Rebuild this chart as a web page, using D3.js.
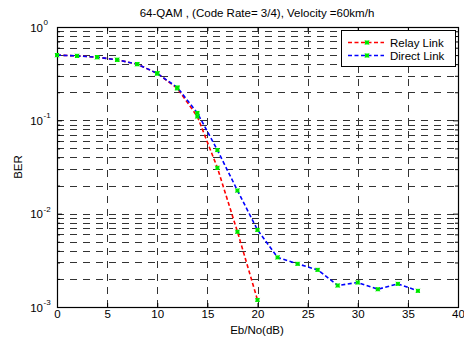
<!DOCTYPE html>
<html>
<head>
<meta charset="utf-8">
<script src="https://cdn.jsdelivr.net/npm/d3@7"></script>
<style>
  html, body { margin: 0; padding: 0; background: #fff; }
  svg { display: block; font-family: "Liberation Sans", Arial, sans-serif; }
</style>
</head>
<body>
<svg id="chart" width="464" height="339"></svg>
<script>
// Eb/No sweep (dB) for each link
const relayEbNo  = [0, 2, 4, 6, 8, 10, 12, 14, 16, 18, 20];
const directEbNo = [0, 2, 4, 6, 8, 10, 12, 14, 16, 18, 20, 22, 24, 26, 28, 30, 32, 34, 36];

// Bit error rate for each link
const relayBER  = [0.5, 0.49, 0.475, 0.445, 0.40, 0.318, 0.22, 0.11, 0.031, 0.0064, 0.00119];
const directBER = [0.5, 0.49, 0.475, 0.445, 0.40, 0.318, 0.225, 0.12, 0.048, 0.0177, 0.0067,
                   0.0034, 0.0029, 0.0025, 0.0017, 0.00183, 0.00155, 0.00177, 0.00149];

// Axis ticks
const xTicks = [0, 5, 10, 15, 20, 25, 30, 35, 40];
const yDecades = [1e-3, 1e-2, 1e-1, 1];
const yDecadeExp = ["-3", "-2", "-1", "0"];

const seriesNames = ["Relay Link", "Direct Link"];
const seriesColors = ["#ff0000", "#0000ff"];

const svg = d3.select("#chart");
const plotL = 57, plotR = 458, plotT = 27, plotB = 307;
const fs = 11.5;

const x = d3.scaleLinear().domain([0, 40]).range([plotL, plotR]);
const y = d3.scaleLog().domain([1e-3, 1]).range([plotB, plotT]);

// minor log ticks (2..9 within each decade)
const yMinor = [];
for (let e = -3; e < 0; e++) {
  for (let m = 2; m <= 9; m++) yMinor.push(m * Math.pow(10, e));
}

// grid
const grid = svg.append("g").attr("stroke", "#333").attr("stroke-width", 1)
  .attr("stroke-dasharray", "7,6").attr("fill", "none");
grid.selectAll("line.gy").data(yMinor.concat([1e-2, 1e-1])).enter().append("line")
  .attr("x1", plotL).attr("x2", plotR)
  .attr("y1", d => Math.round(y(d)) + 0.5).attr("y2", d => Math.round(y(d)) + 0.5);
grid.selectAll("line.gx").data(xTicks.slice(1, -1)).enter().append("line")
  .attr("y1", plotT).attr("y2", plotB)
  .attr("x1", d => Math.round(x(d)) + 0.5).attr("x2", d => Math.round(x(d)) + 0.5);

// axes with inward ticks
const axisStyle = g => {
  g.selectAll(".domain").remove();
  g.selectAll("line").attr("stroke", "#000");
};
svg.append("g").attr("transform", `translate(0,${plotB})`)
  .call(d3.axisBottom(x).tickValues(xTicks).tickSize(-4).tickPadding(3).tickFormat(d3.format("d")))
  .call(axisStyle)
  .call(g => g.selectAll("text").attr("font-size", fs).attr("fill", "#000")
    .attr("font-family", "Liberation Sans, Arial, sans-serif"));
svg.append("g").attr("transform", `translate(0,${plotT})`)
  .call(d3.axisTop(x).tickValues(xTicks).tickSize(-4).tickFormat(""))
  .call(axisStyle);
svg.append("g").attr("transform", `translate(${plotL},0)`)
  .call(d3.axisLeft(y).tickValues(yDecades).tickSize(-5).tickFormat(""))
  .call(axisStyle);
svg.append("g").attr("transform", `translate(${plotL},0)`)
  .call(d3.axisLeft(y).tickValues(yMinor).tickSize(-3).tickFormat(""))
  .call(axisStyle);
svg.append("g").attr("transform", `translate(${plotR},0)`)
  .call(d3.axisRight(y).tickValues(yDecades).tickSize(-5).tickFormat(""))
  .call(axisStyle);
svg.append("g").attr("transform", `translate(${plotR},0)`)
  .call(d3.axisRight(y).tickValues(yMinor).tickSize(-3).tickFormat(""))
  .call(axisStyle);

// y decade labels 10^n
const yl = svg.append("g").attr("font-size", fs).attr("fill", "#000");
yDecades.forEach((d, i) => {
  yl.append("text").attr("x", 43).attr("y", y(d) + 4.5).attr("text-anchor", "end").text("10");
  yl.append("text").attr("x", 43.5).attr("y", y(d) - 2).attr("font-size", 8).text(yDecadeExp[i]);
});

// frame
svg.append("rect").attr("x", plotL + 0.5).attr("y", plotT + 0.5)
  .attr("width", plotR - plotL).attr("height", plotB - plotT)
  .attr("fill", "none").attr("stroke", "#000").attr("stroke-width", 1.2);

// series
const series = [
  { name: seriesNames[0], color: seriesColors[0], xs: relayEbNo, ys: relayBER },
  { name: seriesNames[1], color: seriesColors[1], xs: directEbNo, ys: directBER }
];
const line = d3.line().x(d => x(d[0])).y(d => y(d[1]));

function marker(g, cx, cy) {
  const h = 2;
  g.append("rect").attr("x", cx - h).attr("y", cy - h).attr("width", 2 * h).attr("height", 2 * h)
    .attr("fill", "#00ff00");
  g.append("path").attr("d", `M${cx - h},${cy - h}L${cx + h},${cy + h}M${cx - h},${cy + h}L${cx + h},${cy - h}`)
    .attr("stroke", "#00d000").attr("stroke-width", 1);
}

series.forEach(s => {
  const pts = s.xs.map((v, i) => [v, s.ys[i]]);
  svg.append("path").datum(pts).attr("d", line)
    .attr("fill", "none").attr("stroke", s.color).attr("stroke-width", 1.6)
    .attr("stroke-dasharray", "4,2.5");
});
series.forEach(s => {
  const g = svg.append("g");
  s.xs.forEach((v, i) => marker(g, x(v), y(s.ys[i])));
});

// legend
const lg = svg.append("g");
lg.append("rect").attr("x", 341.5).attr("y", 30.5).attr("width", 114).attr("height", 36)
  .attr("fill", "#fff").attr("stroke", "#000").attr("stroke-width", 1);
series.forEach((s, i) => {
  const cy = 42.5 + i * 13;
  lg.append("line").attr("x1", 348).attr("x2", 384).attr("y1", cy).attr("y2", cy)
    .attr("stroke", s.color).attr("stroke-width", 1.6).attr("stroke-dasharray", "4,2.5");
  marker(lg, 367, cy);
  lg.append("text").attr("x", 390).attr("y", cy + 4).attr("font-size", fs).text(s.name);
});

// title and axis labels
svg.append("text").attr("x", 257).attr("y", 17).attr("text-anchor", "middle")
  .attr("font-size", fs).text("64-QAM , (Code Rate= 3/4), Velocity =60km/h");
svg.append("text").attr("x", 257).attr("y", 334).attr("text-anchor", "middle")
  .attr("font-size", fs).text("Eb/No(dB)");
svg.append("text").attr("transform", `translate(22,${(plotT + plotB) / 2}) rotate(-90)`)
  .attr("text-anchor", "middle").attr("font-size", fs).text("BER");
</script>
</body>
</html>
